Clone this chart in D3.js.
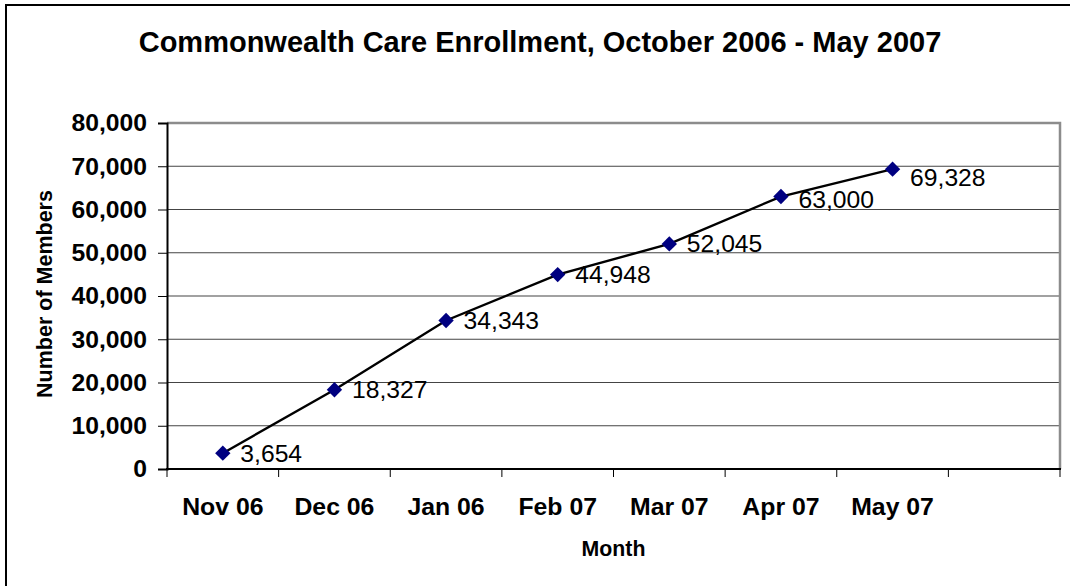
<!DOCTYPE html>
<html>
<head>
<meta charset="utf-8">
<script src="https://cdn.jsdelivr.net/npm/d3@7"></script>
<style>
  html, body { margin: 0; padding: 0; background: #fff; }
  svg { display: block; }
  text { font-family: "Liberation Sans", Arial, sans-serif; }
</style>
</head>
<body>
<svg id="chart" width="1070" height="586"></svg>
<script>
const months = ["Nov 06", "Dec 06", "Jan 06", "Feb 07", "Mar 07", "Apr 07", "May 07", ""];
const members = [3654, 18327, 34343, 44948, 52045, 63000, 69328];
const yTicks = [0, 10000, 20000, 30000, 40000, 50000, 60000, 70000, 80000];
const titleText = "Commonwealth Care Enrollment, October 2006 - May 2007";
const xTitle = "Month";
const yTitle = "Number of Members";

const svg = d3.select("#chart");
const W = 1070, H = 586;
const m = { left: 167, right: 1060, top: 123, bottom: 469 };

// outer chart border (left and top edges visible)
svg.append("rect")
  .attr("x", 6).attr("y", 5)
  .attr("width", W + 20).attr("height", H + 20)
  .attr("fill", "#fff").attr("stroke", "#000").attr("stroke-width", 2);

const x = d3.scaleBand().domain(months.map((d, i) => i)).range([m.left, m.right]).padding(0);
const y = d3.scaleLinear().domain([0, 80000]).range([m.bottom, m.top]);

// gridlines
svg.append("g").selectAll("line").data(yTicks.filter(t => t > 0 && t < 80000)).join("line")
  .attr("x1", m.left).attr("x2", m.right)
  .attr("y1", d => y(d)).attr("y2", d => y(d))
  .attr("stroke", "#444").attr("stroke-width", 1.2);

// plot border top & right
svg.append("path")
  .attr("d", `M${m.left},${m.top}H${m.right}V${m.bottom}`)
  .attr("fill", "none").attr("stroke", "#8c8c8c").attr("stroke-width", 2.5);

// y axis
const yAxis = d3.axisLeft(y).tickValues(yTicks).tickSize(9).tickPadding(11)
  .tickFormat(d3.format(","));
const gy = svg.append("g").attr("transform", `translate(${m.left},0)`).call(yAxis);
gy.select(".domain").attr("stroke", "#000").attr("stroke-width", 2);
gy.selectAll(".tick line").attr("stroke", "#000").attr("stroke-width", 1);
gy.selectAll(".tick text")
  .attr("font-size", 24.7).attr("font-weight", "bold").attr("fill", "#000")
  .attr("font-family", "Liberation Sans, Arial, sans-serif");

// x axis (ticks at band boundaries)
const gx = svg.append("g");
gx.append("line").attr("x1", m.left - 1).attr("x2", m.right + 1)
  .attr("y1", m.bottom).attr("y2", m.bottom)
  .attr("stroke", "#000").attr("stroke-width", 2);
const boundaries = months.map((d, i) => x(i)).concat([x(months.length - 1) + x.bandwidth()]);
gx.selectAll("line.tk").data(boundaries).join("line").attr("class", "tk")
  .attr("x1", d => d).attr("x2", d => d)
  .attr("y1", m.bottom).attr("y2", m.bottom + 8)
  .attr("stroke", "#000").attr("stroke-width", 1);
gx.selectAll("text").data(months).join("text")
  .attr("x", (d, i) => x(i) + x.bandwidth() / 2)
  .attr("y", 515)
  .attr("text-anchor", "middle")
  .attr("font-size", 24.8).attr("font-weight", "bold")
  .text(d => d);

// line
const cx = i => x(i) + x.bandwidth() / 2;
svg.append("path").datum(members)
  .attr("d", d3.line().x((d, i) => cx(i)).y(d => y(d)))
  .attr("fill", "none").attr("stroke", "#000").attr("stroke-width", 2.4);

// markers
svg.append("g").selectAll("path").data(members).join("path")
  .attr("d", d3.symbol().type(d3.symbolDiamond2 || d3.symbolDiamond).size(150))
  .attr("transform", (d, i) => `translate(${cx(i)},${y(d)})`)
  .attr("fill", "#000080");

// data labels
svg.append("g").selectAll("text").data(members).join("text")
  .attr("x", (d, i) => cx(i) + 17.5)
  .attr("y", (d, i) => y(d) + 8.5 + (i === members.length - 1 ? 8 : (i === members.length - 2 ? 2.5 : 0)))
  .attr("font-size", 24.7).attr("fill", "#000")
  .text(d => d3.format(",")(d));

// title
svg.append("text").attr("x", 540).attr("y", 51.5).attr("text-anchor", "middle")
  .attr("font-size", 29).attr("font-weight", "bold").text(titleText);

// axis titles
svg.append("text").attr("x", (m.left + m.right) / 2).attr("y", 556).attr("text-anchor", "middle")
  .attr("font-size", 21.3).attr("font-weight", "bold").text(xTitle);
svg.append("text")
  .attr("transform", `translate(52,${(m.top + m.bottom) / 2 - 2}) rotate(-90)`)
  .attr("text-anchor", "middle")
  .attr("font-size", 21.5).attr("font-weight", "bold").text(yTitle);
</script>
</body>
</html>
